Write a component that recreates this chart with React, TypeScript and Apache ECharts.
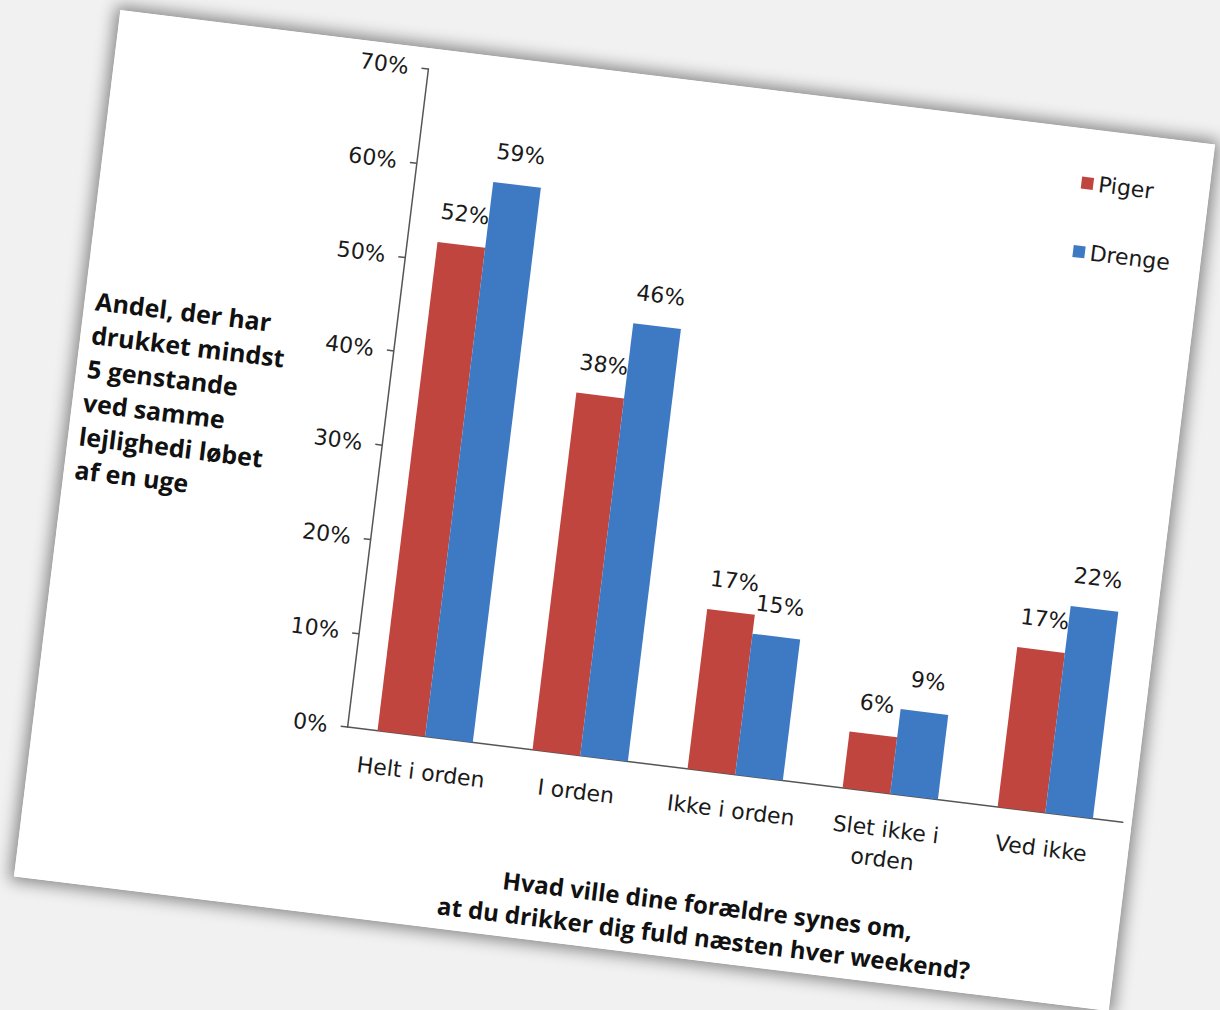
import React, { useEffect, useRef } from 'react';
import * as echarts from 'echarts';

const categories = ['Helt i orden', 'I orden', 'Ikke i orden', 'Slet ikke i\norden', 'Ved ikke'];
const seriesNames = ['Piger', 'Drenge'];
const pigerValues = [52, 38, 17, 6, 17];
const drengeValues = [59, 46, 15, 9, 22];
const yMin = 0;
const yMax = 70;
const yInterval = 10;
const yTitleLines = ['Andel, der har', 'drukket mindst', '5 genstande', 'ved samme', 'lejlighedi løbet', 'af en uge'];
const xTitleLines = ['Hvad ville dine forældre synes om,', 'at du drikker dig fuld næsten hver weekend?'];

const RED = '#C1453F';
const BLUE = '#3E7AC3';
const TXT = '#1a1a1a';
const FONT = 'DejaVu Sans';

const CARD_W = 1103;
const CARD_H = 873;

function Chart() {
  const ref = useRef<HTMLDivElement>(null);
  useEffect(() => {
    if (!ref.current) return;
    const chart = echarts.init(ref.current, undefined, { renderer: 'svg' });
    const labelStyle = {
      show: true,
      position: 'top' as const,
      distance: 20,
      formatter: '{c}%',
      fontFamily: FONT,
      fontSize: 22,
      color: TXT,
    };
    chart.setOption({
      animation: false,
      backgroundColor: '#ffffff',
      grid: { left: 313, right: 9, top: 21, bottom: 189, containLabel: false },
      legend: {
        orient: 'vertical',
        left: 970,
        top: 38,
        itemWidth: 12,
        itemHeight: 12,
        itemGap: 47,
        icon: 'rect',
        data: seriesNames,
        textStyle: { fontFamily: FONT, fontSize: 22, color: TXT },
      },
      xAxis: {
        type: 'category',
        data: categories,
        axisLine: { show: true, lineStyle: { color: '#555555', width: 1.5 } },
        axisTick: { show: false },
        axisLabel: {
          interval: 0,
          margin: 21,
          fontFamily: FONT,
          fontSize: 22,
          lineHeight: 30,
          color: TXT,
        },
      },
      yAxis: {
        type: 'value',
        min: yMin,
        max: yMax,
        interval: yInterval,
        axisLine: { show: true, lineStyle: { color: '#555555', width: 1.5 } },
        axisTick: { show: true, length: 7, inside: false, lineStyle: { color: '#555555', width: 1.5 } },
        splitLine: { show: false },
        axisLabel: {
          formatter: '{value}%',
          margin: 20,
          fontFamily: FONT,
          fontSize: 22,
          color: TXT,
        },
      },
      series: [
        {
          name: seriesNames[0],
          type: 'bar',
          data: pigerValues,
          barWidth: 48,
          barGap: '0%',
          itemStyle: { color: RED },
          label: labelStyle,
        },
        {
          name: seriesNames[1],
          type: 'bar',
          data: drengeValues,
          barWidth: 48,
          barGap: '0%',
          itemStyle: { color: BLUE },
          label: labelStyle,
        },
      ],
      graphic: [
        {
          type: 'text',
          left: 11,
          top: 274,
          style: {
            text: yTitleLines.join('\n'),
            font: 'bold 25px "Open Sans"',
            lineHeight: 34,
            fill: '#111111',
          },
        },
        {
          type: 'text',
          x: 692,
          y: 800,
          style: {
            text: xTitleLines.join('\n'),
            font: 'bold 24px "Open Sans"',
            lineHeight: 33,
            textAlign: 'center',
            fill: '#111111',
          },
        },
      ],
    });
    return () => chart.dispose();
  }, []);
  return <div ref={ref} style={{ width: CARD_W, height: CARD_H }} />;
}

export default function App() {
  return (
    <div
      style={{
        position: 'fixed',
        left: 0,
        top: 0,
        width: 1220,
        height: 1010,
        overflow: 'hidden',
        background: '#f1f1f1',
      }}
    >
      <div
        style={{
          position: 'absolute',
          left: 614 - CARD_W / 2,
          top: 510 - CARD_H / 2,
          width: CARD_W,
          height: CARD_H,
          background: '#ffffff',
          transform: 'rotate(7deg)',
          transformOrigin: '50% 50%',
          boxShadow: '0 0 16px 4px rgba(0,0,0,0.45)',
        }}
      >
        <Chart />
      </div>
    </div>
  );
}
